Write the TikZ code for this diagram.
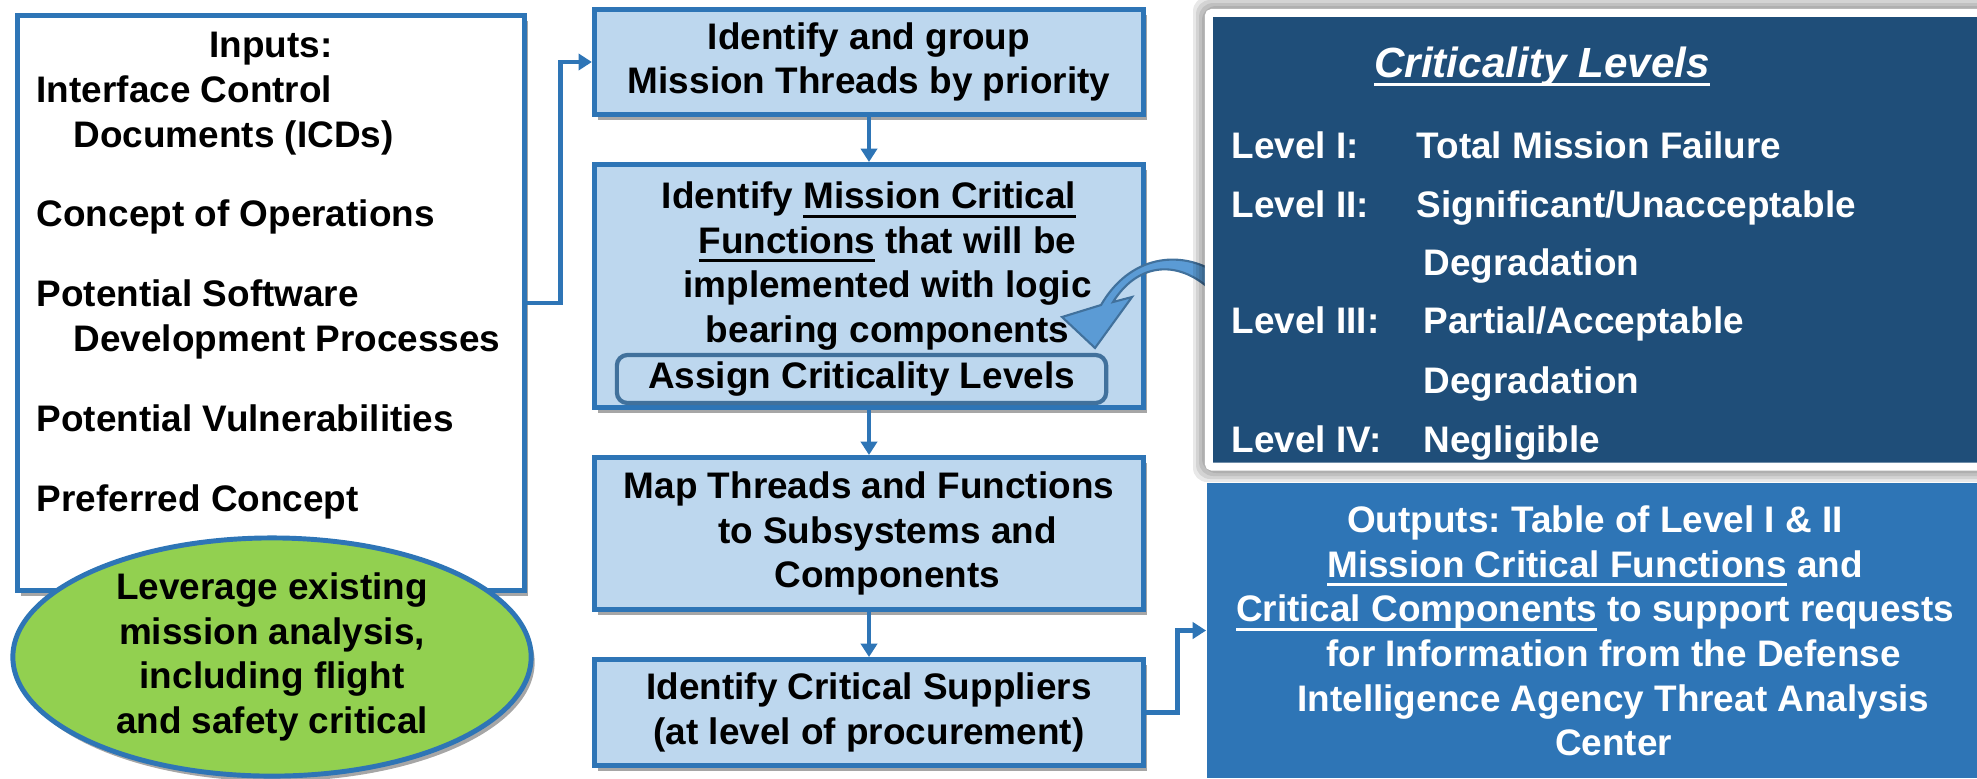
\documentclass[tikz,border=0pt]{standalone}
\usepackage{fontspec}
\setmainfont{Liberation Sans}
\frenchspacing
\usetikzlibrary{arrows.meta,shadows,shapes.geometric}
\definecolor{lineblue}{HTML}{2E75B6}
\definecolor{boxblue}{HTML}{BDD7EE}
\definecolor{darkblue}{HTML}{1F4E79}
\definecolor{leafgreen}{HTML}{92D050}
\definecolor{arrowblue}{HTML}{5B9BD5}
\definecolor{edgeblue}{HTML}{41719C}
\newcommand{\ulin}[1]{\leavevmode\vtop{\hbox{\raisebox{0pt}[\height][0pt]{#1}}\kern1.8pt\hrule height0.8pt}}
\tikzset{
    boxshadow/.style={drop shadow={shadow xshift=1pt, shadow yshift=-1.5pt, opacity=0.35, fill=black}},
    flowbox/.style={draw=lineblue, line width=1.4pt, fill=boxblue, minimum width=5.49cm, inner sep=0pt, align=center, boxshadow},
    conn/.style={draw=lineblue, line width=1.4pt, -{Triangle[width=4.6pt,length=3.8pt]}},
    levtext/.style={anchor=base west, text=white, inner sep=0pt}
}
\begin{document}
\begin{tikzpicture}[x=0.01cm, y=-0.01cm, font=\fontsize{10.5}{12.7}\selectfont\bfseries]
        \useasboundingbox (0,0) rectangle (1977,778);
        \node[draw=lineblue, line width=1.4pt, fill=white, boxshadow, minimum width=5.07cm, minimum height=5.75cm, inner sep=0pt] (inputs) at (271,303) {};
        \node[anchor=base, inner sep=0pt] (intitle) at (271,57) {Inputs:};
        \node[anchor=north west, align=left, inner sep=0pt] (inlist) at (36,75) {Interface Control\\ \hspace*{1em}Documents (ICDs)\\[10pt] Concept of Operations\\[10pt] Potential Software\\ \hspace*{1em}Development Processes\\[10pt] Potential Vulnerabilities\\[10pt] Preferred Concept};
        \node[ellipse, draw=lineblue, line width=1.4pt, fill=leafgreen, boxshadow, minimum width=5.18cm, minimum height=2.35cm, inner sep=0pt, align=center] (leverage) at (272,657) {Leverage existing\\ mission analysis,\\ including flight\\ and safety critical};
        \node[flowbox, minimum height=1.05cm] (group) at (869,62) {Identify and group\\ Mission Threads by priority};
        \node[flowbox, minimum height=2.43cm] (functions) at (869,286) {};
        \node[anchor=north, align=center, inner sep=0pt] (fntext) at (869,181) {Identify \ulin{Mission Critical}\\ \hspace*{1em}\ulin{Functions} that will be\\ \hspace*{1em}implemented with logic\\ \hspace*{1em}bearing components};
        \node[draw=edgeblue, line width=1.2pt, rounded corners=3pt, fill=boxblue, minimum width=4.89cm, minimum height=0.48cm, inner sep=0pt] (assign) at (861.5,379) {Assign Criticality Levels};
        \node[flowbox, minimum height=1.52cm] (mapping) at (869,533.5) {Map Threads and Functions\\ \hspace*{1em}to Subsystems and\\ \hspace*{1em}Components};
        \node[flowbox, minimum height=1.06cm] (suppliers) at (869,712.5) {Identify Critical Suppliers\\ (at level of procurement)};
        \node[fill=lineblue, minimum width=7.7cm, minimum height=2.95cm, inner sep=0pt] (outputs) at (1592,630.5) {};
        \node[anchor=north, align=center, text=white, inner sep=0pt] (outtext) at (1595,505) {Outputs: Table of Level I \& II\\ \ulin{Mission Critical Functions} and\\ \ulin{Critical Components} to support requests\\ \hspace*{1em}for Information from the Defense\\ \hspace*{1em}Intelligence Agency Threat Analysis\\ \hspace*{1em}Center};
        \draw[conn] (inputs.east) -- ++(33,0) |- (group.west);
        \draw[conn] (group) -- (functions);
        \draw[conn] (functions) -- (mapping);
        \draw[conn] (mapping) -- (suppliers);
        \draw[conn] (suppliers.east) -- ++(31,0) |- (outputs.west);
        \filldraw[fill=arrowblue, draw=edgeblue, line width=0.6pt] (1215,272) .. controls (1180,250) and (1130,255) .. (1101,305) -- (1062,317) -- (1095,348) -- (1132,297) -- (1113,302) .. controls (1138,262) and (1180,258) .. (1215,294) -- cycle;
        \foreach \g in {3,6,9,12}
            \fill[black, opacity=0.09, rounded corners=4pt] (1205-\g,9-\g) rectangle (2000,470+\g);
        \node[draw=white, line width=2.3pt, fill=darkblue, rounded corners=1pt, minimum width=7.95cm, minimum height=4.535cm, inner sep=0pt] (levels) at (1606.5,239.75) {};
        \node[anchor=base, text=white, inner sep=0pt, font=\fontsize{12}{14}\selectfont\bfseries\itshape] (levtitle) at (1542,77) {\ulin{Criticality Levels}};
        \node[levtext] (lv1) at (1231,158) {Level I:};
        \node[levtext] (lv1d) at (1416,158) {Total Mission Failure};
        \node[levtext] (lv2) at (1231,217) {Level II:};
        \node[levtext] (lv2d) at (1416,217) {Significant/Unacceptable};
        \node[levtext] (lv2e) at (1423,275) {Degradation};
        \node[levtext] (lv3) at (1231,333) {Level III:};
        \node[levtext] (lv3d) at (1423,333) {Partial/Acceptable};
        \node[levtext] (lv3e) at (1423,393) {Degradation};
        \node[levtext] (lv4) at (1231,452) {Level IV:};
        \node[levtext] (lv4d) at (1423,452) {Negligible};
\end{tikzpicture}
\end{document}
